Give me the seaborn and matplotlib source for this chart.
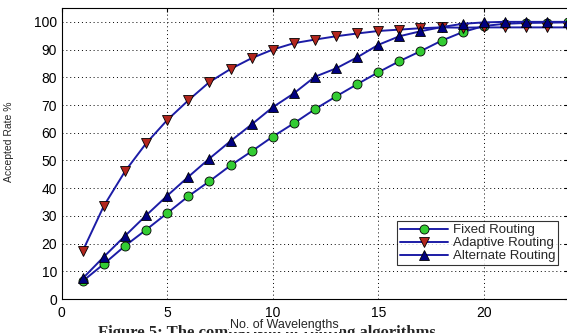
import numpy as np
import pandas as pd
import matplotlib
matplotlib.use('Agg')
import matplotlib.pyplot as plt
import seaborn as sns

# Data
wavelengths = list(range(1, 25))
fixed = [6.5, 12.7, 19.2, 25.0, 31.0, 37.1, 42.5, 48.2, 53.3, 58.6, 63.4, 68.5,
         73.1, 77.5, 81.8, 85.8, 89.4, 93.2, 96.3, 98.5, 99.3, 99.6, 99.7, 99.8]
adaptive = [17.5, 33.7, 46.1, 56.2, 64.6, 71.7, 78.3, 83.0, 86.9, 90.0, 92.3, 93.6,
            94.8, 95.8, 96.7, 97.2, 97.7, 98.0, 97.9, 98.0, 98.0, 98.0, 98.0, 98.0]
alternate = [7.5, 15.3, 22.8, 30.2, 37.3, 44.1, 50.7, 57.0, 63.0, 69.2, 74.2, 80.2,
             83.2, 87.2, 91.7, 94.8, 96.6, 98.1, 99.3, 99.8, 100.0, 100.0, 100.0, 100.0]
labels = ['Fixed Routing', 'Adaptive Routing', 'Alternate Routing']

sns.set_style('white')
plt.rcParams['font.family'] = ['Liberation Sans', 'DejaVu Sans']

fig = plt.figure(figsize=(5.67, 3.33), dpi=100)
ax = fig.add_axes([0.109, 0.102, 0.893, 0.874])

line_color = '#1c1ca6'
styles = [('o', '#33cc33'), ('v', '#b3261e'), ('^', '#000080')]
for vals, lab, (mk, fc) in zip([fixed, adaptive, alternate], labels, styles):
    sns.lineplot(x=wavelengths, y=vals, ax=ax, color=line_color, linewidth=1.4,
                 marker=mk, markersize=6.5, markerfacecolor=fc,
                 markeredgecolor='black', markeredgewidth=0.6, label=lab)

ax.set_xlim(0, 24)
ax.set_ylim(0, 105)
ax.set_xticks([0, 5, 10, 15, 20])
ax.set_yticks(np.arange(0, 101, 10))
ax.tick_params(direction='in', length=3, labelsize=10, top=True, right=True,
               colors='black')
ax.tick_params(axis='x', pad=5)
ax.grid(True, color='black', linestyle=(0, (1, 3)), linewidth=0.7)
for s in ax.spines.values():
    s.set_color('black')
    s.set_linewidth(0.8)

ax.set_xlabel('No. of Wavelengths', fontsize=9,
              bbox=dict(facecolor='white', edgecolor='none', pad=0.5))
ax.xaxis.set_label_coords(0.44, -0.07)
ax.set_ylabel('Accepted Rate %', fontsize=7.5)
ax.yaxis.set_label_coords(-0.095, 0.54)

leg = ax.legend(loc='lower right', bbox_to_anchor=(0.993, 0.095), fontsize=9.5,
                frameon=True, fancybox=False, handlelength=3.6,
                borderpad=0.2, labelspacing=0.05, handletextpad=0.4)
leg.get_frame().set_edgecolor('black')
leg.get_frame().set_linewidth(0.8)

# caption sits partly under the x label and is cut by the bottom edge
fig.text(0.47, 0.024, 'Figure 5: The comparison of routing algorithms',
         ha='center', va='top', fontsize=12, fontweight='bold',
         family=['Liberation Serif', 'DejaVu Serif'], zorder=-1)

fig.savefig('out.png', dpi=100)
